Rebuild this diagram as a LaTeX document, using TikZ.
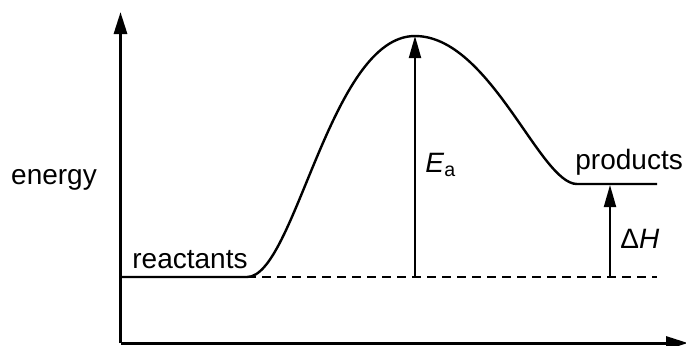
\documentclass[tikz,border=0pt]{standalone}
\usepackage{fontspec}
\setmainfont{Liberation Sans}
\usetikzlibrary{arrows.meta, positioning}

\begin{document}
\begin{tikzpicture}[x=0.5pt, y=-0.5pt,
        axis/.style={line width=1.5pt, -{Triangle[length=11pt, width=6.5pt]}},
        gaparrow/.style={line width=1pt, -{Triangle[length=11pt, width=6pt]}},
        profile/.style={line width=1.2pt},
        lbl/.style={font=\fontsize{14}{16}\selectfont, inner sep=0pt}]
            \useasboundingbox (0,0) rectangle (686,345);

            % axes
            \coordinate (origin) at (120.5,343);
            \coordinate (ytop) at (120.5,12);
            \coordinate (xend) at (688,343);
            \draw[axis] (origin) -- (ytop);
            \draw[axis] (origin) -- (xend);

            % energy profile
            \coordinate (reactL) at (120.5,277);
            \coordinate (reactR) at (247,277);
            \coordinate (peak) at (415,36);
            \coordinate (prodL) at (577,184);
            \coordinate (prodR) at (657,184);
            \draw[profile] (reactL) -- (reactR) .. controls (295,277) and (330,36) .. (peak)
                .. controls (490,36) and (540,184) .. (prodL) -- (prodR);

            % reactant level
            \coordinate (baseR) at (657,277);
            \draw[dashed, dash pattern=on 4.5pt off 3pt, line width=0.8pt] (reactR) -- (baseR);

            % activation energy and enthalpy change
            \coordinate (eaBase) at (415,277);
            \draw[gaparrow] (eaBase) -- (peak);
            \coordinate (dhBase) at (610,277);
            \coordinate (dhTop) at (610,185);
            \draw[gaparrow] (dhBase) -- (dhTop);

            \node[lbl] (energy) at (54,180) {energy};
            \node[lbl, anchor=base west] (reactants) at (132,268) {reactants};
            \node[lbl, anchor=base west] (products) at (575,169) {products};
            \node[lbl, anchor=base west] (ea) at (425,172) {\textit{E}\textsubscript{a}};
            \node[lbl, anchor=base west] (dh) at (620,248) {Δ\textit{H}};
        \end{tikzpicture}
\end{document}
